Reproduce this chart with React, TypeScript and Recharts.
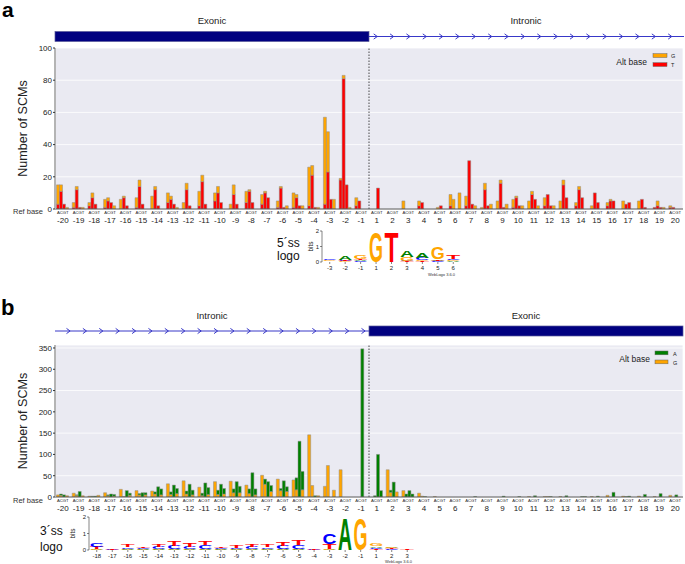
import React from 'react';
import { BarChart, Bar, XAxis, YAxis, CartesianGrid, ReferenceLine } from 'recharts';

// ---------- categories ----------
const positions = ['-20','-19','-18','-17','-16','-15','-14','-13','-12','-11','-10','-9','-8','-7','-6','-5','-4','-3','-2','-1',
  '1','2','3','4','5','6','7','8','9','10','11','12','13','14','15','16','17','18','19','20'];

// ---------- panel a (5' splice site): counts per ref base -> alt base ----------
const aA_G = [12,3,2,5,6,6,8,6,4,9,5,3,7,6,4,9,24,54,1,5, 0,0,5,3,0,7,6,1,5,5,5,5,5,2,2,2,5,5,0,1];
const aA_T = [3,1,2,1,0,1,0,4,0,2,5,0,4,3,1,1,2,3,18,2, 0,0,0,2,0,2,2,0,0,1,0,2,0,2,0,2,0,0,1,1];
const aC_G = [4,2,3,2,1,4,2,2,4,4,4,6,1,1,1,2,6,25,2,0, 0,0,0,0,1,6,0,4,2,1,2,0,3,2,0,1,0,0,3,0];
const aC_T = [11,12,7,5,7,14,12,6,12,17,10,9,11,10,13,7,21,23,81,5, 0,0,0,4,0,0,30,12,16,7,9,9,15,12,10,5,3,6,2,1];
const aG_T = [3,1,3,4,2,3,2,3,2,3,4,3,4,7,1,2,1,6,15,0, 13,0,0,0,2,0,3,2,1,2,6,2,7,7,4,5,4,1,1,0];
const aT_G = [1,1,0,2,0,0,0,1,0,0,0,0,0,0,2,2,1,6,1,0, 0,0,0,0,0,10,2,3,3,2,2,2,0,0,0,0,0,0,1,0];

// ---------- panel b (3' splice site) ----------
const bA_G = [5,9,2,10,18,15,14,31,38,23,36,37,28,51,42,40,146,25,64,0, 0,64,15,9,1,0,0,0,0,0,1,1,1,0,1,4,2,2,1,4];
const bC_G = [4,4,1,3,1,5,7,6,7,3,6,10,8,30,15,17,27,74,0,0, 0,11,0,2,0,0,0,0,0,0,0,1,0,0,0,0,0,0,0,0];
const bC_A = [3,1,1,2,0,3,5,6,7,6,10,9,11,12,5,28,0,0,0,0, 3,5,7,0,0,0,0,0,0,0,0,0,0,0,0,0,1,0,0,0];
const bG_A = [5,13,2,7,15,10,24,28,30,33,30,36,57,36,38,131,3,0,0,348, 100,35,15,1,0,0,0,0,2,1,3,1,3,1,2,11,2,6,8,5];
const bT_G = [3,3,4,2,4,5,5,8,5,6,7,10,5,13,13,17,3,16,0,0, 0,12,0,0,0,0,0,0,0,0,0,0,0,0,0,0,0,0,0,0];
const bT_A = [0,0,0,4,5,5,14,12,11,16,13,15,14,14,11,43,0,0,0,0, 15,0,7,0,0,0,1,0,0,0,0,0,0,1,0,0,0,0,0,0];

const aTicks = [0, 20, 40, 60, 80, 100];
const bTicks = [0, 50, 100, 150, 200, 250, 300, 350];

// ---------- sequence logos (letters bottom -> top, heights in bits) ----------
const logo5Pos = ['-3','-2','-1','1','2','3','4','5','6'];
const logo5Letters = ['TAGC','GCTA','CATG','G','T','TCGA','TGCA','CATG','AGCT'];
const logo5Bits = [
  [0.03,0.03,0.04,0.08],
  [0.04,0.05,0.07,0.25],
  [0.04,0.1,0.07,0.25],
  [1.98],
  [1.98],
  [0.04,0.05,0.25,0.43],
  [0.04,0.07,0.12,0.32],
  [0.04,0.05,0.1,0.72],
  [0.04,0.06,0.1,0.27],
];

const logo3Pos = ['-18','-17','-16','-15','-14','-13','-12','-11','-10','-9','-8','-7','-6','-5','-4','-3','-2','-1','1','2','3'];
const logo3Letters = ['AGTC','CT','GACT','GACT','GACT','GACT','GACT','GACT','GACT','GACT','GACT','GACT','GACT','GACT','CT','AGTC','A','G','TCAG','CTAG','T'];
const logo3Bits = [
  [0.03,0.03,0.12,0.25],
  [0.03,0.05],
  [0.03,0.03,0.1,0.12],
  [0.03,0.03,0.08,0.1],
  [0.03,0.03,0.12,0.15],
  [0.03,0.03,0.2,0.3],
  [0.03,0.03,0.14,0.2],
  [0.03,0.03,0.23,0.27],
  [0.03,0.03,0.07,0.08],
  [0.03,0.03,0.09,0.12],
  [0.03,0.03,0.12,0.16],
  [0.03,0.03,0.11,0.14],
  [0.03,0.03,0.2,0.27],
  [0.03,0.03,0.25,0.3],
  [0.03,0.04],
  [0.03,0.03,0.33,0.6],
  [1.95],
  [1.95],
  [0.05,0.1,0.08,0.15],
  [0.04,0.06,0.04,0.1],
  [0.03],
];

// ---------- styling ----------
const ORANGE = '#FFA500';
const RED = '#FF0000';
const GREEN = '#008000';
const NAVY = '#000080';
const LINE_BLUE = '#3838C8';
const BG = '#EAEAF2';
const FONT = '"Liberation Sans", Arial, sans-serif';
const LOGO_COLORS: Record<string, string> = { A: '#008000', C: '#0000FF', G: '#FFA500', T: '#FF0000' };

const dataA = positions.map((pos, i) => ({
  pos, A_G: aA_G[i], A_T: aA_T[i], C_G: aC_G[i], C_T: aC_T[i], G_T: aG_T[i], T_G: aT_G[i],
}));
const dataB = positions.map((pos, i) => ({
  pos, A_G: bA_G[i], C_G: bC_G[i], C_A: bC_A[i], G_A: bG_A[i], T_G: bT_G[i], T_A: bT_A[i],
}));

function buildLogo(pos: string[], letters: string[], bits: number[][]) {
  return pos.map((p, i) => {
    const row: any = { pos: p };
    for (let j = 0; j < 4; j++) {
      row['l' + j] = letters[i][j] || '';
      row['h' + j] = bits[i][j] || 0;
    }
    return row;
  });
}
const logo5Data = buildLogo(logo5Pos, logo5Letters, logo5Bits);
const logo3Data = buildLogo(logo3Pos, logo3Letters, logo3Bits);

const PosTick = (props: any) => {
  const { x, y, payload } = props;
  return (
    <g>
      <text x={x} y={y + 5} textAnchor="middle" fontSize={4.2} fontFamily={FONT} fill="#222">ACGT</text>
      <text x={x} y={y + 13.5} textAnchor="middle" fontSize={8} fontFamily={FONT} fill="#222">{payload.value}</text>
    </g>
  );
};

const barStroke = { stroke: '#8c8c8c', strokeWidth: 0.5 };

function SCMChart(props: { data: any[]; height: number; top: number; xAxisHeight: number; yMax: number; ticks: number[]; children: any }) {
  const { data, height, top, xAxisHeight, yMax, ticks, children } = props;
  return (
    <BarChart width={685} height={height} data={data} margin={{ top, right: 2, bottom: 0, left: 0 }} barCategoryGap={1.5} barGap={0}>
      <CartesianGrid xAxisId="grid" stroke="#ffffff" strokeWidth={0.8} fill={BG} fillOpacity={1} />
      <XAxis dataKey="pos" interval={0} tick={<PosTick />} tickLine={false} tickSize={0} tickMargin={0}
        axisLine={{ stroke: '#555', strokeWidth: 1 }} height={xAxisHeight} />
      <XAxis xAxisId="grid" dataKey="pos" interval={1} tick={false} tickLine={false} axisLine={false} height={0} />
      <YAxis width={55} domain={[0, yMax]} ticks={ticks} allowDataOverflow
        tick={{ fontSize: 8, fill: '#222', fontFamily: FONT }} tickSize={2} tickMargin={1}
        tickLine={{ stroke: '#333' }} axisLine={{ stroke: '#b4b4b4', strokeWidth: 2 }} />
      {children}
      <ReferenceLine x="1" position="start" stroke="#222" strokeWidth={0.8} strokeDasharray="1.5 1.5" />
    </BarChart>
  );
}

function letterShape(slot: number) {
  return (p: any) => {
    const { x, y, width, height, payload } = p;
    const letter = payload ? payload['l' + slot] : '';
    if (!letter || !(height > 0.4)) return <g />;
    const fs = 10;
    const cap = 0.716 * fs;
    return (
      <text x={0} y={0} transform={`translate(${x},${y + height}) scale(1,${height / cap})`}
        fontSize={fs} fontFamily={FONT} fontWeight="bold" fill={LOGO_COLORS[letter]}
        textLength={width} lengthAdjust="spacingAndGlyphs">{letter}</text>
    );
  };
}

function LogoChart(props: { data: any[]; width: number; height: number; top: number; right: number; yAxisWidth: number; xAxisHeight: number }) {
  const { data, width, height, top, right, yAxisWidth, xAxisHeight } = props;
  return (
    <BarChart width={width} height={height} data={data} margin={{ top, right, bottom: 0, left: 0 }} barCategoryGap={0.7} barGap={0}>
      <XAxis dataKey="pos" interval={0} axisLine={false} tickLine={{ stroke: '#333', strokeWidth: 0.6 }} tickSize={2} tickMargin={2}
        tick={{ fontSize: 6, fill: '#222', fontFamily: FONT }} height={xAxisHeight} />
      <YAxis width={yAxisWidth} domain={[0, 2]} ticks={[0, 1, 2]} allowDataOverflow
        tick={{ fontSize: 6, fill: '#222', fontFamily: FONT }} tickSize={2} tickMargin={1}
        tickLine={{ stroke: '#333', strokeWidth: 0.6 }} axisLine={{ stroke: '#333', strokeWidth: 0.6 }} />
      {[0, 1, 2, 3].map((j) => (
        <Bar key={j} dataKey={'h' + j} stackId="s" shape={letterShape(j)} isAnimationActive={false} />
      ))}
    </BarChart>
  );
}

function Chevrons({ start, end, y, count }: { start: number; end: number; y: number; count: number }) {
  const step = (end - start) / (count - 1);
  const items = Array.from({ length: count }, (_, i) => start + i * step);
  return (
    <g>
      {items.map((cx, i) => (
        <path key={i} d={`M${cx - 1.8},${y - 2.6} L${cx + 1.8},${y} L${cx - 1.8},${y + 2.6}`} fill="none" stroke={LINE_BLUE} strokeWidth={1} />
      ))}
    </g>
  );
}

function Overlay() {
  return (
    <svg width={685} height={564} style={{ position: 'absolute', left: 0, top: 0, pointerEvents: 'none' }} fontFamily={FONT}>
      {/* panel a */}
      <text x={2} y={17} fontSize={21} fontWeight="bold" fill="#000">a</text>
      <text x={212} y={24} fontSize={9.5} textAnchor="middle" fill="#222">Exonic</text>
      <text x={526} y={24} fontSize={9.5} textAnchor="middle" fill="#222">Intronic</text>
      <rect x={55} y={31.5} width={314} height={10} fill={NAVY} stroke="#5a5a9a" strokeWidth={0.7} />
      <line x1={369} y1={36.5} x2={684} y2={36.5} stroke={LINE_BLUE} strokeWidth={1} />
      <Chevrons start={375.5} end={670} y={36.5} count={19} />
      <text transform="translate(27,128.5) rotate(-90)" fontSize={12.6} textAnchor="middle" fill="#222">Number of SCMs</text>
      <text x={13} y={214} fontSize={7.5} fill="#333">Ref base</text>
      <text x={647} y={65} fontSize={8.5} textAnchor="end" fill="#222">Alt base</text>
      <rect x={653} y={53.7} width={14} height={3.8} fill={ORANGE} stroke="#666" strokeWidth={0.5} />
      <rect x={653} y={62.7} width={14} height={3.8} fill={RED} stroke="#666" strokeWidth={0.5} />
      <text x={671} y={57.8} fontSize={5.5} fill="#222">G</text>
      <text x={671} y={66.8} fontSize={5.5} fill="#222">T</text>
      <text x={277} y={247} fontSize={12} fill="#111">5´ss</text>
      <text x={277} y={260} fontSize={12} fill="#111">logo</text>
      <text transform="translate(313,246.5) rotate(-90)" fontSize={6.5} textAnchor="middle" fill="#222">bits</text>
      <text x={428} y={275.5} fontSize={4} fill="#333">WebLogo 3.6.0</text>

      {/* panel b */}
      <text x={1} y={315} fontSize={22} fontWeight="bold" fill="#000">b</text>
      <text x={212} y={319} fontSize={9.5} textAnchor="middle" fill="#222">Intronic</text>
      <text x={526} y={319} fontSize={9.5} textAnchor="middle" fill="#222">Exonic</text>
      <line x1={55} y1={331} x2={369} y2={331} stroke={LINE_BLUE} strokeWidth={1} />
      <Chevrons start={68.3} end={363.3} y={331} count={19} />
      <rect x={369} y={326} width={314} height={10} fill={NAVY} stroke="#5a5a9a" strokeWidth={0.7} />
      <text transform="translate(27,421) rotate(-90)" fontSize={12.6} textAnchor="middle" fill="#222">Number of SCMs</text>
      <text x={13} y={503} fontSize={7.5} fill="#333">Ref base</text>
      <text x={650} y={362} fontSize={8.5} textAnchor="end" fill="#222">Alt base</text>
      <rect x={655} y={351} width={13} height={3.8} fill={GREEN} stroke="#666" strokeWidth={0.5} />
      <rect x={655} y={360} width={13} height={3.8} fill={ORANGE} stroke="#666" strokeWidth={0.5} />
      <text x={673} y={355.5} fontSize={5.5} fill="#222">A</text>
      <text x={673} y={364.5} fontSize={5.5} fill="#222">G</text>
      <text x={40} y={535} fontSize={12} fill="#111">3´ss</text>
      <text x={40} y={551} fontSize={12} fill="#111">logo</text>
      <text transform="translate(75,533.5) rotate(-90)" fontSize={6.5} textAnchor="middle" fill="#222">bits</text>
      <text x={385} y={563} fontSize={4} fill="#333">WebLogo 3.6.0</text>
    </svg>
  );
}

export default function App() {
  return (
    <div style={{ position: 'absolute', left: 0, top: 0, width: 685, height: 564, background: '#fff', overflow: 'hidden', fontFamily: FONT }}>
      <div style={{ position: 'absolute', left: 0, top: 0 }}>
        <SCMChart data={dataA} height={230} top={48} xAxisHeight={21} yMax={100} ticks={aTicks}>
          <Bar dataKey="A_T" stackId="A" fill={RED} {...barStroke} isAnimationActive={false} />
          <Bar dataKey="A_G" stackId="A" fill={ORANGE} {...barStroke} isAnimationActive={false} />
          <Bar dataKey="C_T" stackId="C" fill={RED} {...barStroke} isAnimationActive={false} />
          <Bar dataKey="C_G" stackId="C" fill={ORANGE} {...barStroke} isAnimationActive={false} />
          <Bar dataKey="G_T" stackId="G" fill={RED} {...barStroke} isAnimationActive={false} />
          <Bar dataKey="T_G" stackId="T" fill={ORANGE} {...barStroke} isAnimationActive={false} />
        </SCMChart>
      </div>
      <div style={{ position: 'absolute', left: 0, top: 300 }}>
        <SCMChart data={dataB} height={220} top={45} xAxisHeight={23} yMax={357} ticks={bTicks}>
          <Bar dataKey="A_G" stackId="A" fill={ORANGE} {...barStroke} isAnimationActive={false} />
          <Bar dataKey="C_G" stackId="C" fill={ORANGE} {...barStroke} isAnimationActive={false} />
          <Bar dataKey="C_A" stackId="C" fill={GREEN} {...barStroke} isAnimationActive={false} />
          <Bar dataKey="G_A" stackId="G" fill={GREEN} {...barStroke} isAnimationActive={false} />
          <Bar dataKey="T_G" stackId="T" fill={ORANGE} {...barStroke} isAnimationActive={false} />
          <Bar dataKey="T_A" stackId="T" fill={GREEN} {...barStroke} isAnimationActive={false} />
        </SCMChart>
      </div>
      <div style={{ position: 'absolute', left: 290, top: 222 }}>
        <LogoChart data={logo5Data} width={180} height={55} top={9} right={9} yAxisWidth={32} xAxisHeight={15} />
      </div>
      <div style={{ position: 'absolute', left: 50, top: 508 }}>
        <LogoChart data={logo3Data} width={375} height={56} top={9} right={10} yAxisWidth={39} xAxisHeight={14} />
      </div>
      <Overlay />
    </div>
  );
}
